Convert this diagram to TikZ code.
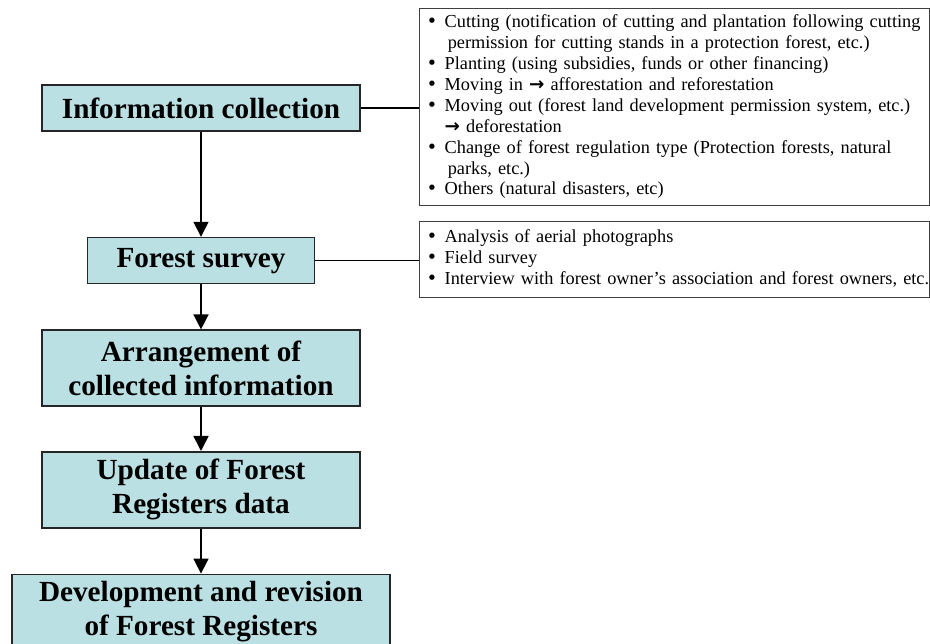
\documentclass[tikz,border=0pt]{standalone}
\usepackage{fontspec}
\setmainfont{Liberation Serif}
\newfontfamily\arrowfont{DejaVu Sans}
\usetikzlibrary{arrows.meta, positioning}
\definecolor{stagefill}{RGB}{187,224,227}
\newcommand{\toarrow}{{\arrowfont\bfseries →}}
\newcommand{\dotitem}{{\arrowfont •}}

\begin{document}
\begin{tikzpicture}[
  x=1pt, y=-1pt,
  stage/.style={rectangle, draw=black!85, line width=1.6pt, fill=stagefill, minimum width=318pt, minimum height=46pt, align=center, inner sep=0pt, font=\bfseries\fontsize{29.2}{34}\selectfont},
  notes/.style={rectangle, draw=black!75, line width=1.4pt, text width=510pt, inner sep=0pt, align=left, anchor=north west, font=\fontsize{18.3}{20.9}\selectfont},
  arrow/.style={-{Triangle[length=15pt, width=15pt]}, line width=1.6pt},
  link/.style={line width=1.6pt}
]
\useasboundingbox (0,0) rectangle (930,644);
\node[stage] (collect) at (201,108) {Information collection};
\node[stage, minimum width=227pt, below=105pt of collect] (survey) {Forest survey};
\node[stage, minimum height=76pt, below=45pt of survey] (arrange) {Arrangement of\\collected information};
\node[stage, minimum height=76pt, below=44pt of arrange] (update) {Update of Forest\\Registers data};
\node[stage, minimum width=378pt, minimum height=75pt, below=45pt of update] (develop) {Development and revision\\of Forest Registers};

\node[notes, minimum height=197pt] (cases) at (419,8) {\begin{tabular}{@{\hspace{7pt}}p{18pt}@{}l@{}}
\dotitem & Cutting (notification of cutting and plantation following cutting\\
 & \,permission for cutting stands in a protection forest, etc.)\\
\dotitem & Planting (using subsidies, funds or other financing)\\
\dotitem & Moving in \toarrow{} afforestation and reforestation\\
\dotitem & Moving out (forest land development permission system, etc.)\\
 & \toarrow{} deforestation\\
\dotitem & Change of forest regulation type (Protection forests, natural\\
 & \,parks, etc.)\\
\dotitem & Others (natural disasters, etc)
\end{tabular}};
\node[notes, minimum height=76pt] (methods) at (419,221) {\begin{tabular}{@{\hspace{7pt}}p{18pt}@{}l@{}}
\dotitem & Analysis of aerial photographs\\
\dotitem & Field survey\\
\dotitem & Interview with forest owner’s association and forest owners, etc.
\end{tabular}};

\draw[arrow] (collect) -- (survey);
\draw[arrow] (survey) -- (arrange);
\draw[arrow] (arrange) -- (update);
\draw[arrow] (update) -- (develop);
\draw[link] (collect.east) -- (collect.east -| cases.west);
\draw[link] (survey.east) -- (survey.east -| methods.west);
\end{tikzpicture}
\end{document}
